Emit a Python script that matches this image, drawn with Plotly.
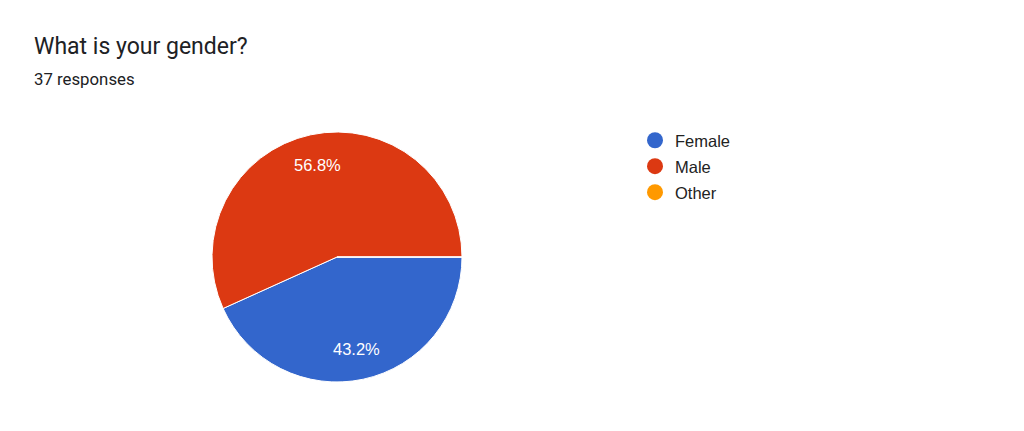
import math
import plotly.graph_objects as go

categories = ["Female", "Male", "Other"]
counts = [16, 21, 0]
colors = ["#3366cc", "#dc3912", "#ff9900"]
title = "What is your gender?"
subtitle = "37 responses"

W, H = 1024, 431
OFF = 8  # page offset compensation
cx, cy, r = 337 - OFF, 257 - OFF, 125
start_deg = 90  # first slice starts at 3 o'clock, clockwise

fig = go.Figure()
fig.add_trace(go.Pie(
    labels=categories, values=counts, sort=False, direction="clockwise",
    rotation=start_deg, marker=dict(colors=colors, line=dict(color="white", width=1)),
    textinfo="none", showlegend=False, hoverinfo="label+value+percent",
    domain=dict(x=[(cx - r) / W, (cx + r) / W], y=[(H - cy - r) / H, (H - cy + r) / H]),
))
for c, col in zip(categories, colors):
    fig.add_trace(go.Scatter(
        x=[None], y=[None], mode="markers", name=c, legendgroup=c,
        marker=dict(symbol="circle", size=16, color=col),
    ))

annotations = [
    dict(text=title, x=(33 - OFF) / W, y=1 - (46.5 - OFF) / H, xref="paper", yref="paper",
         xanchor="left", yanchor="middle", showarrow=False, borderpad=0,
         font=dict(size=23, family="Roboto, Arial", color="#202124")),
    dict(text=subtitle, x=(33 - OFF) / W, y=1 - (79 - OFF) / H, xref="paper", yref="paper",
         xanchor="left", yanchor="middle", showarrow=False, borderpad=0,
         font=dict(size=16.8, family="Roboto, Arial", color="#202124")),
]

total = sum(counts)
acc = 0
for v in counts:
    if v > 0:
        mid = math.radians(start_deg + 360 * (acc + v / 2) / total)
        lx = cx + 0.75 * r * math.sin(mid)
        ly = cy - 0.75 * r * math.cos(mid)
        annotations.append(dict(
            text=f"{100 * v / total:.1f}%", x=lx / W, y=1 - ly / H,
            xref="paper", yref="paper", xanchor="center", yanchor="middle",
            showarrow=False, borderpad=0,
            font=dict(size=16.5, family="Liberation Sans, Arial", color="white")))
    acc += v

fig.update_layout(
    width=W, height=H, margin=dict(l=0, r=0, t=0, b=0),
    paper_bgcolor="white", plot_bgcolor="white",
    xaxis=dict(visible=False), yaxis=dict(visible=False),
    legend=dict(x=627 / W, y=1 - 115 / H, xanchor="left", yanchor="top",
                font=dict(size=16.5, family="Liberation Sans, Arial", color="#222222"),
                itemsizing="trace", tracegroupgap=1.5, itemwidth=30),
    annotations=annotations,
)
fig.write_html("out.html")
